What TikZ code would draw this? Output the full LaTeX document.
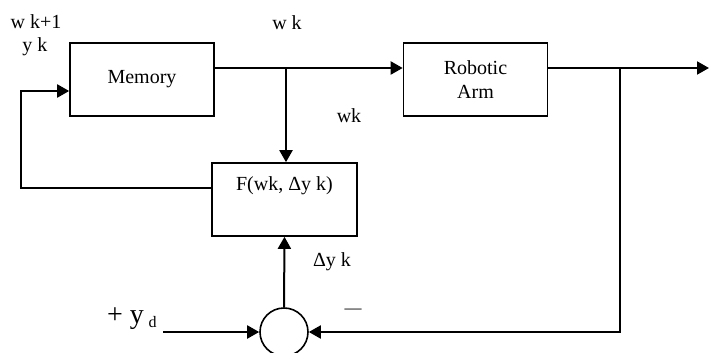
\documentclass[tikz,border=0pt]{standalone}
\usepackage{fontspec}
\setmainfont{Liberation Serif}
\usepackage{tikz}
\usetikzlibrary{arrows.meta, calc}
\usepackage{xcolor}
\definecolor{linegray}{RGB}{0, 0, 0}
\newcommand{\lbl}{\fontsize{20}{24}\selectfont}

\begin{document}
\begin{tikzpicture}[x=1pt, y=-1pt, >={Triangle[length=12pt, width=13pt]},
  blockbox/.style={draw=linegray, line width=1.6pt, minimum width=144pt, minimum height=73pt, inner sep=0pt, font=\lbl, align=center},
  sig/.style={line width=2pt, ->}]

  % frame
  \useasboundingbox (0,0) rectangle (710,353);

  % blocks
  \node[blockbox] (mem) at (142,79.5) {Memory};
  \node[blockbox] (arm) at (475.5,79.5) {Robotic\\Arm};
  \node[blockbox, minimum width=145pt] (fbox) at (284.5,199.5) {F(wk, Δy k)\\ \strut};
  \node[draw=linegray, line width=1.6pt, circle, minimum size=48pt, inner sep=0pt] (sum) at (284,332) {};

  % branch points
  \coordinate (mout) at ([yshift=11.5pt]mem.east);
  \coordinate (min) at ([yshift=-11.5pt]mem.west);
  \coordinate (b1) at (286,68);
  \coordinate (b2) at (620,68);
  \coordinate (out) at (709,68);
  \coordinate (yd) at (163,332);

  % forward path
  \draw[sig] (mout) -- (mout -| arm.west);
  \draw[line width=2pt] ([yshift=11.5pt]arm.east) -- (b2);
  \draw[sig] (b2) -- (out);
  \draw[sig] (b1) -- (b1 |- fbox.north);

  % feedback paths
  \draw[sig] ([yshift=12pt]fbox.west) -| ([xshift=-48pt]min) -- (min);
  \draw[sig] (b2) |- (sum.east);
  \draw[sig] (yd) -- (sum.west);
  \draw[sig] (sum.north) -- (fbox.south);

  % labels
  \node[font=\lbl] (lwk1) at (36,22) {w k+1};
  \node[font=\lbl] (lyk) at (35,47) {y k};
  \node[font=\lbl] (lwk) at (287,23) {w k};
  \node[font=\lbl] (lwkb) at (349,116) {wk};
  \node[font=\lbl] (ldy) at (332,262) {Δy k};
  \node[font=\fontsize{17}{20}\selectfont] (lminus) at (353,311) {\textemdash};
  \node[anchor=base west, inner sep=0pt] (lyd) at (107,323) {\fontsize{28}{30}\selectfont + y\,\fontsize{16}{18}\selectfont\raisebox{-4pt}{d}};

\end{tikzpicture}
\end{document}
